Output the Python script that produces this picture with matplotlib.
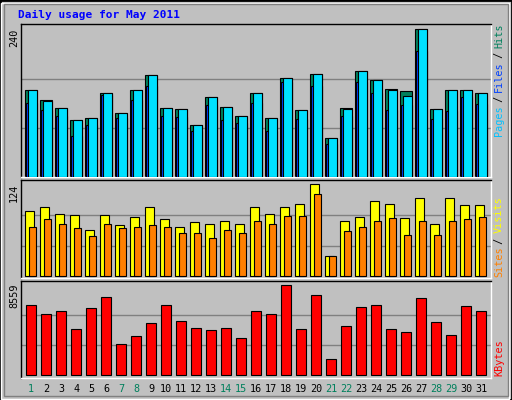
import matplotlib
matplotlib.use("Agg")
import matplotlib.pyplot as plt
from matplotlib.patches import Rectangle

days = list(range(1, 32))
day_labels = [str(d) for d in days]
weekend = [1, 7, 8, 14, 15, 21, 22, 28, 29]
hits = [142,125,112,92,96,137,104,142,165,112,111,85,130,114,99,137,96,161,109,168,63,112,173,157,143,140,240,111,142,142,137]
files = [142,124,112,92,96,137,104,142,165,112,111,85,130,114,99,137,96,161,109,168,63,111,173,157,142,132,240,111,142,142,137]
pages = [121,109,99,67,85,134,96,125,148,99,98,75,117,93,88,121,75,154,94,148,53,99,155,137,109,117,204,94,107,130,119]
visits = [88,94,84,82,63,82,69,80,93,77,66,73,70,75,70,94,84,93,97,124,28,74,80,102,98,78,105,71,106,96,96]
sites = [66,77,70,65,54,71,65,66,69,67,59,59,51,62,59,74,71,81,81,111,28,61,67,75,78,55,74,55,74,77,80]
kbytes = [6678,5831,6113,4420,6395,7430,3010,3762,4985,6678,5173,4514,4326,4514,3574,6113,5831,8559,4420,7618,1505,4702,6489,6678,4420,4138,7336,5079,3856,6584,6113]

W, H = 512, 400
fig = plt.figure(figsize=(W/100, H/100), dpi=100)
fig.patch.set_facecolor('#c0c0c0')
fig.patches.append(Rectangle((0, 0), 1, 1, transform=fig.transFigure, fill=False, ec='black', lw=2))
fig.patches.append(Rectangle((1/W, 1/H), 1-4/W, 1-4/H, transform=fig.transFigure, fill=False, ec='white', lw=1))
fig.patches.append(Rectangle((4/W, 4/H), 1-8/W, 1-8/H, transform=fig.transFigure, fill=False, ec='#808080', lw=1))

def ax_px(x0, y0, x1, y1):
    a = fig.add_axes([x0/W, 1-y1/H, (x1-x0)/W, (y1-y0)/H])
    a.set_facecolor('#c0c0c0')
    a.set_xticks([]); a.set_yticks([])
    for s in a.spines.values():
        s.set_color('black'); s.set_linewidth(1)
    a.spines['bottom'].set_color('white'); a.spines['right'].set_color('white')
    return a

XL = (1 - 4.6/15, 1 - 4.6/15 + 470/15)
mono = 'DejaVu Sans Mono'
fs = 7.3

a1 = ax_px(20.5, 24, 490.5, 177)
a1.set_xlim(*XL); a1.set_ylim(0, 248.7)
for g in (80, 160):
    a1.axhline(g, color='#808080', lw=1, zorder=0)
d = days
a1.bar(d, hits, width=0.76, align='edge', color='#00805c', ec='black', lw=0.8, zorder=2)
a1.bar([x+0.093 for x in d], pages, width=0.667, align='edge', color='#0040ff', ec='black', lw=0.8, zorder=3)
a1.bar([x+0.2 for x in d], files, width=0.56, align='edge', color='#00e0ff', ec='black', lw=0.8, zorder=4)

a2 = ax_px(20.5, 180, 490.5, 278)
a2.set_xlim(*XL); a2.set_ylim(-2.3, 129.8)
for g in (124/3, 248/3):
    a2.axhline(g, color='#808080', lw=1, zorder=0)
a2.bar(d, visits, width=0.56, align='edge', color='#ffff00', ec='black', lw=0.8, zorder=2)
a2.bar([x+0.267 for x in d], sites, width=0.49, align='edge', color='#ff8000', ec='black', lw=0.8, zorder=3)

a3 = ax_px(20.5, 281, 490.5, 378)
a3.set_xlim(*XL); a3.set_ylim(-254, 8963)
for g in (8559/3, 2*8559/3):
    a3.axhline(g, color='#808080', lw=1, zorder=0)
a3.bar([x+0.067 for x in d], kbytes, width=0.69, align='edge', color='#ff0000', ec='black', lw=0.8, zorder=2)

for x, lab in zip(days, day_labels):
    xp = (x + 0.41 - XL[0]) / (XL[1]-XL[0]) * 470 + 20.5
    c = '#00805c' if x in weekend else 'black'
    fig.text(xp/W, 1-389/H, lab, color=c, fontsize=fs, family=mono, ha='center', va='center')

fig.text(18/W, 1-15/H, 'Daily usage for May 2011', color='#0000ff', fontsize=fs+0.7, family=mono, fontweight='bold', va='center')
for y, t in ((29, '240'), (184, '124'), (284, '8559')):
    fig.text(14/W, 1-y/H, t, rotation=90, fontsize=fs, family=mono, ha='center', va='top')

def right_label(parts, ybot, step):
    y = ybot
    for t, c in parts:
        fig.text(499/W, 1-y/H, t, rotation=90, fontsize=fs, family=mono, color=c, ha='center', va='bottom')
        y -= len(t)*step
right_label([('Pages', '#00c0ff'), (' / ', 'black'), ('Files', '#0040ff'), (' / ', 'black'), ('Hits', '#00805c')], 136, 5.5)
right_label([('Sites', '#ff8000'), (' / ', 'black'), ('Visits', '#ffff00')], 277, 5.5)
right_label([('KBytes', '#ff0000')], 376, 5.5)

fig.savefig('out.png', dpi=100, facecolor=fig.get_facecolor())
